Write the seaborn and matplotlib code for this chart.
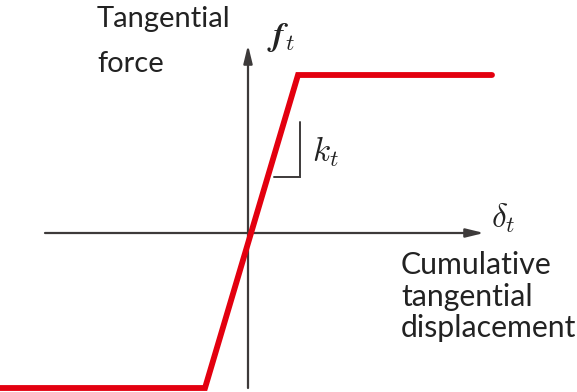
import matplotlib
matplotlib.use("Agg")
import matplotlib.pyplot as plt
import seaborn as sns
import pandas as pd

# Piecewise-linear tangential force law (slip / stick / slip)
displacement = [-250, -43, 50, 244]
force = [-155, -155, 158, 158]

# Axis extents
x_axis = [-203, 236]
y_axis = [-155, 188]

# Stiffness slope marker (vertical leg, then horizontal leg)
slope_x = [52, 52, 26]
slope_y = [111, 56, 56]

sns.set_theme(style="white")
plt.rcParams["font.family"] = ["Lato", "DejaVu Sans"]
plt.rcParams["mathtext.fontset"] = "cm"

fig = plt.figure(figsize=(5.77, 3.92), dpi=100)
ax = fig.add_axes([0, 0, 1, 1])
ax.set_xlim(-248, 329)
ax.set_ylim(-159, 233)
ax.axis("off")

axis_color = "#3d3a3a"
arrow = dict(arrowstyle="-|>,head_length=0.9,head_width=0.22",
             color=axis_color, lw=1.6, shrinkA=0, shrinkB=0)
ax.annotate("", xy=(x_axis[1], 0), xytext=(x_axis[0], 0), arrowprops=arrow)
ax.annotate("", xy=(0, y_axis[1]), xytext=(0, y_axis[0]), arrowprops=arrow)

df = pd.DataFrame({"displacement": displacement, "force": force})
sns.lineplot(data=df, x="displacement", y="force", sort=False, estimator=None,
             color="#e3000f", lw=4.2, ax=ax, solid_joinstyle="miter", zorder=3)

ax.plot(slope_x, slope_y, color=axis_color, lw=1.4, solid_joinstyle="miter")

text_color = "#222222"
label_kw = dict(fontsize=21, color=text_color, ha="left", va="baseline")
ax.text(-151, 206, "Tangential", **label_kw)
ax.text(-151, 161, "force", **label_kw)
lower_kw = dict(label_kw, fontsize=21.8)
ax.text(153, -41, "Cumulative", **lower_kw)
ax.text(153, -73, "tangential", **lower_kw)
ax.text(153, -104, "displacement", **lower_kw)

math_kw = dict(fontsize=24, color=text_color, ha="left", va="center")
ax.text(19, 196, r"$\boldsymbol{f}_t$", **math_kw)
ax.text(64, 81, r"$k_t$", **math_kw)
ax.text(243, 15, r"$\delta_t$", **math_kw)

fig.savefig("out.png", dpi=100)
